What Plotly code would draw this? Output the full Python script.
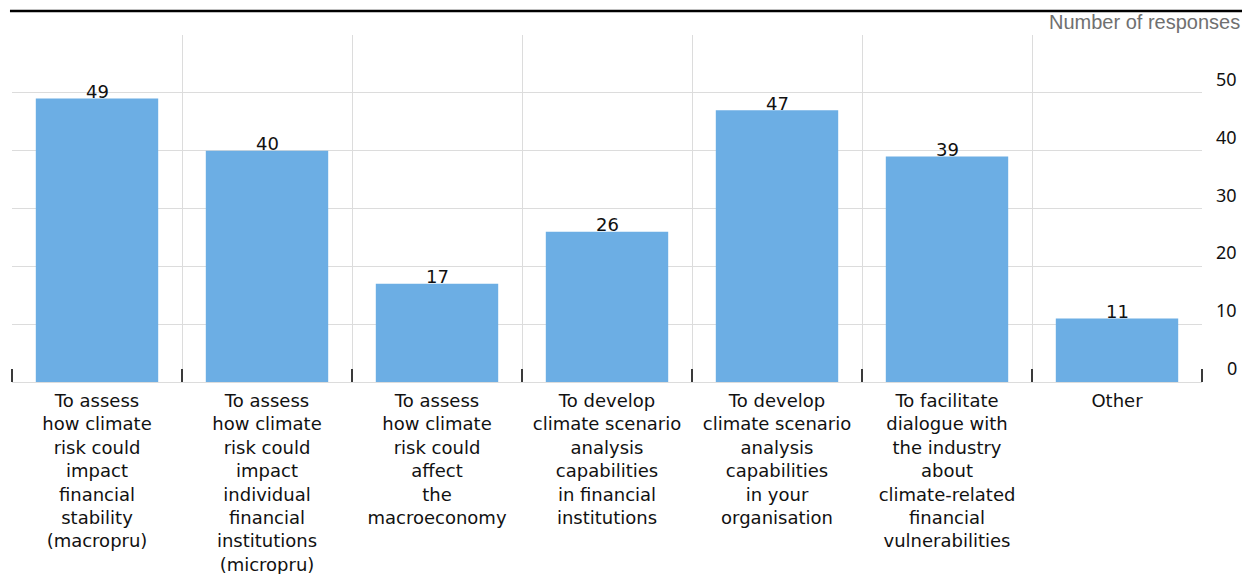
import plotly.graph_objects as go

# Survey categories (line breaks follow the printed wrapping)
categories = [
    "To assess<br>how climate<br>risk could<br>impact<br>financial<br>stability<br>(macropru)",
    "To assess<br>how climate<br>risk could<br>impact<br>individual<br>financial<br>institutions<br>(micropru)",
    "To assess<br>how climate<br>risk could<br>affect<br>the<br>macroeconomy",
    "To develop<br>climate scenario<br>analysis<br>capabilities<br>in financial<br>institutions",
    "To develop<br>climate scenario<br>analysis<br>capabilities<br>in your<br>organisation",
    "To facilitate<br>dialogue with<br>the industry<br>about<br>climate-related<br>financial<br>vulnerabilities",
    "Other",
]
responses = [49, 40, 17, 26, 47, 39, 11]
y_ticks = [0, 10, 20, 30, 40, 50]

positions = list(range(len(categories)))
boundaries = [p - 0.5 for p in positions] + [positions[-1] + 0.5]

LABEL_FONT = "DejaVu Sans, Noto Sans, sans-serif"
GRID = "#dcdcdc"

fig = go.Figure(
    go.Bar(
        x=positions,
        y=responses,
        marker=dict(color="#6caee4", line=dict(width=0)),
        hoverinfo="x+y",
    )
)

fig.update_layout(
    width=1242,
    height=574,
    margin=dict(l=12, r=40, t=35, b=192, autoexpand=False),
    paper_bgcolor="white",
    plot_bgcolor="white",
    showlegend=False,
    bargap=0.28,
    font=dict(family=LABEL_FONT, color="#111111"),
)

fig.update_xaxes(
    range=[-0.5, len(categories) - 0.5],
    tickmode="array",
    tickvals=positions,
    ticktext=categories,
    tickfont=dict(family=LABEL_FONT, size=18, color="#111111"),
    ticks="",
    ticklabelstandoff=6,
    automargin=False,
    showgrid=False,
    zeroline=False,
    showline=False,
    minor=dict(
        tickvals=boundaries,
        ticks="inside",
        ticklen=13,
        tickwidth=2,
        tickcolor="#3a3a3a",
        showgrid=True,
        gridcolor=GRID,
        gridwidth=1,
    ),
)

fig.update_yaxes(
    range=[0, 60],
    tickmode="array",
    tickvals=y_ticks + [60],
    showticklabels=False,
    automargin=False,
    showgrid=True,
    gridcolor=GRID,
    gridwidth=1,
    zeroline=True,
    zerolinecolor=GRID,
    zerolinewidth=1,
    side="right",
)

# Value labels sitting on top of each bar
for xpos, v in zip(positions, responses):
    fig.add_annotation(
        x=xpos, y=v,
        xanchor="center", yanchor="middle",
        yshift=7,
        text=str(v),
        showarrow=False,
        font=dict(family=LABEL_FONT, size=18, color="#111111"),
    )

# Right-aligned value scale, set just above each gridline
for v in y_ticks:
    fig.add_annotation(
        xref="paper", yref="y",
        x=1.0, y=v,
        xanchor="right", yanchor="middle",
        xshift=37, yshift=14,
        text=str(v),
        showarrow=False,
        font=dict(family="Noto Sans, sans-serif", size=18, color="#111111"),
    )

# Unit note
fig.add_annotation(
    xref="paper", yref="paper",
    x=1.0, y=1.0,
    xanchor="right", yanchor="middle",
    xshift=40, yshift=13,
    text="Number of responses",
    showarrow=False,
    font=dict(family="Liberation Sans, Arial, sans-serif", size=20, color="#707070"),
)

# Rule under the heading
fig.add_shape(
    type="line",
    xref="paper", yref="paper",
    x0=-0.0017, x1=1.04,
    ysizemode="pixel", yanchor=1.0, y0=24, y1=24,
    line=dict(color="#000000", width=2.5),
)

fig.write_html("out.html")
